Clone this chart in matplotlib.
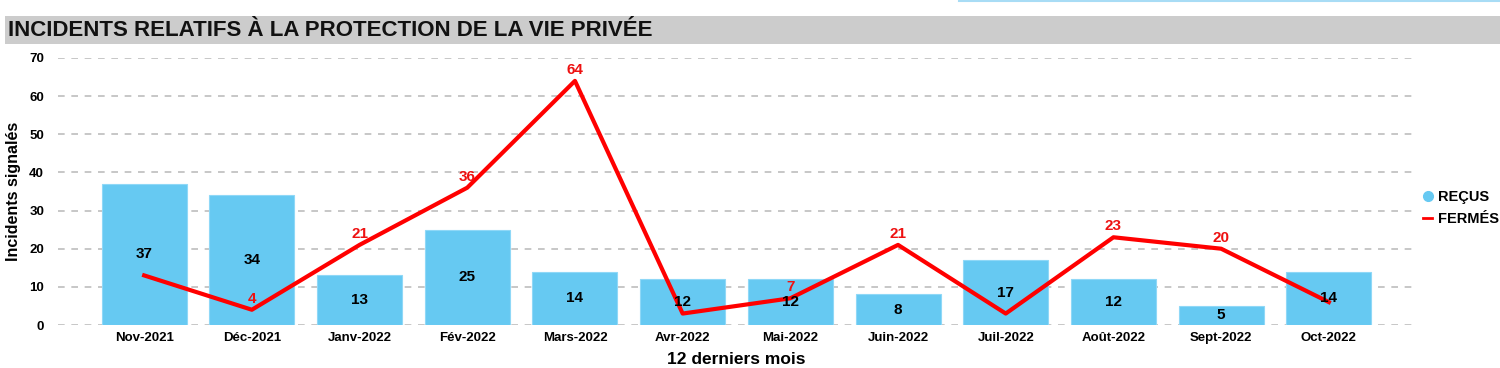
import matplotlib
matplotlib.use("Agg")
from matplotlib import pyplot as plt
from matplotlib.lines import Line2D
from matplotlib.patches import Rectangle

plt.rcParams['font.family'] = ['Liberation Sans', 'DejaVu Sans']

mois = ["Nov-2021", "Déc-2021", "Janv-2022", "Fév-2022", "Mars-2022", "Avr-2022",
        "Mai-2022", "Juin-2022", "Juil-2022", "Août-2022", "Sept-2022", "Oct-2022"]
recus = [37, 34, 13, 25, 14, 12, 12, 8, 17, 12, 5, 14]
fermes = [13, 4, 21, 36, 64, 3, 7, 21, 3, 23, 20, 6]
# etiquettes rouges visibles (les autres sont cachees dans l'original)
fermesLabels = [None, 4, 21, 36, 64, None, 7, 21, None, 23, 20, None]

bleu = "#66c9f2"
rouge = "#ff0000"

fig = plt.figure(figsize=(15, 3.68), dpi=100)

# bandeau du titre
fig.patches.append(Rectangle((5/1500, 1-44/368), 1495/1500, 28/368, transform=fig.transFigure,
                             facecolor="#cccccc", edgecolor="none", zorder=0))
fig.lines.append(Line2D([959/1500, 1], [1-1/368, 1-1/368], transform=fig.transFigure,
                        color="#a8dcf5", lw=1.5))
fig.text(8/1500, 1-30/368, "INCIDENTS RELATIFS À LA PROTECTION DE LA VIE PRIVÉE",
         fontsize=16, fontweight="bold", va="center", ha="left", color="#111111")

ax = fig.add_axes([58/1500, 1-325/368, (1415-58)/1500, (325-58)/368])
x = list(range(len(mois)))
ax.bar(x, recus, width=0.79, color=bleu, edgecolor="#8fd8f7", lw=0.8, zorder=2)
ax.plot(x, fermes, color=rouge, lw=3, zorder=3)

for i, v in enumerate(recus):
  ax.text(i, v/2, str(v), ha="center", va="center", fontsize=11, fontweight="bold", zorder=4)
for i, v in enumerate(fermesLabels):
  if v is not None:
    ax.annotate(str(v), (i, fermes[i]), xytext=(0, 8), textcoords="offset points",
                ha="center", va="center", fontsize=11, fontweight="bold", color="#ee1111", zorder=4)

ax.set_xlim(-0.8, 11.8)
ax.set_ylim(0, 70)
ax.set_yticks(range(0, 71, 10))
ax.set_xticks(x)
ax.set_xticklabels(mois)
ax.yaxis.grid(True, linestyle=(0, (4, 4)), color="#bdbdbd", lw=1.2, zorder=1)
ax.set_axisbelow(True)
for s in ax.spines.values():
  s.set_visible(False)
ax.tick_params(length=0, labelsize=9.5)
ax.tick_params(axis="y", pad=10)
ax.tick_params(axis="x", pad=5)
for lab in ax.get_xticklabels() + ax.get_yticklabels():
  lab.set_fontweight("bold")
ax.set_xlabel("12 derniers mois", fontsize=12.5, fontweight="bold", labelpad=6)
ax.set_ylabel("Incidents signalés", fontsize=11.5, fontweight="bold", labelpad=6)

handles = [Line2D([], [], marker="o", color="none", markerfacecolor=bleu, markeredgecolor=bleu, markersize=7),
           Line2D([], [], color=rouge, lw=2)]
fig.legend(handles, ["REÇUS", "FERMÉS"], loc="center left", bbox_to_anchor=(1410/1500, 1-208/368),
           frameon=False, handlelength=0.6, handletextpad=0.4, labelspacing=0.5,
           prop={"weight": "bold", "size": 10.5})

fig.savefig("out.png", dpi=100)
